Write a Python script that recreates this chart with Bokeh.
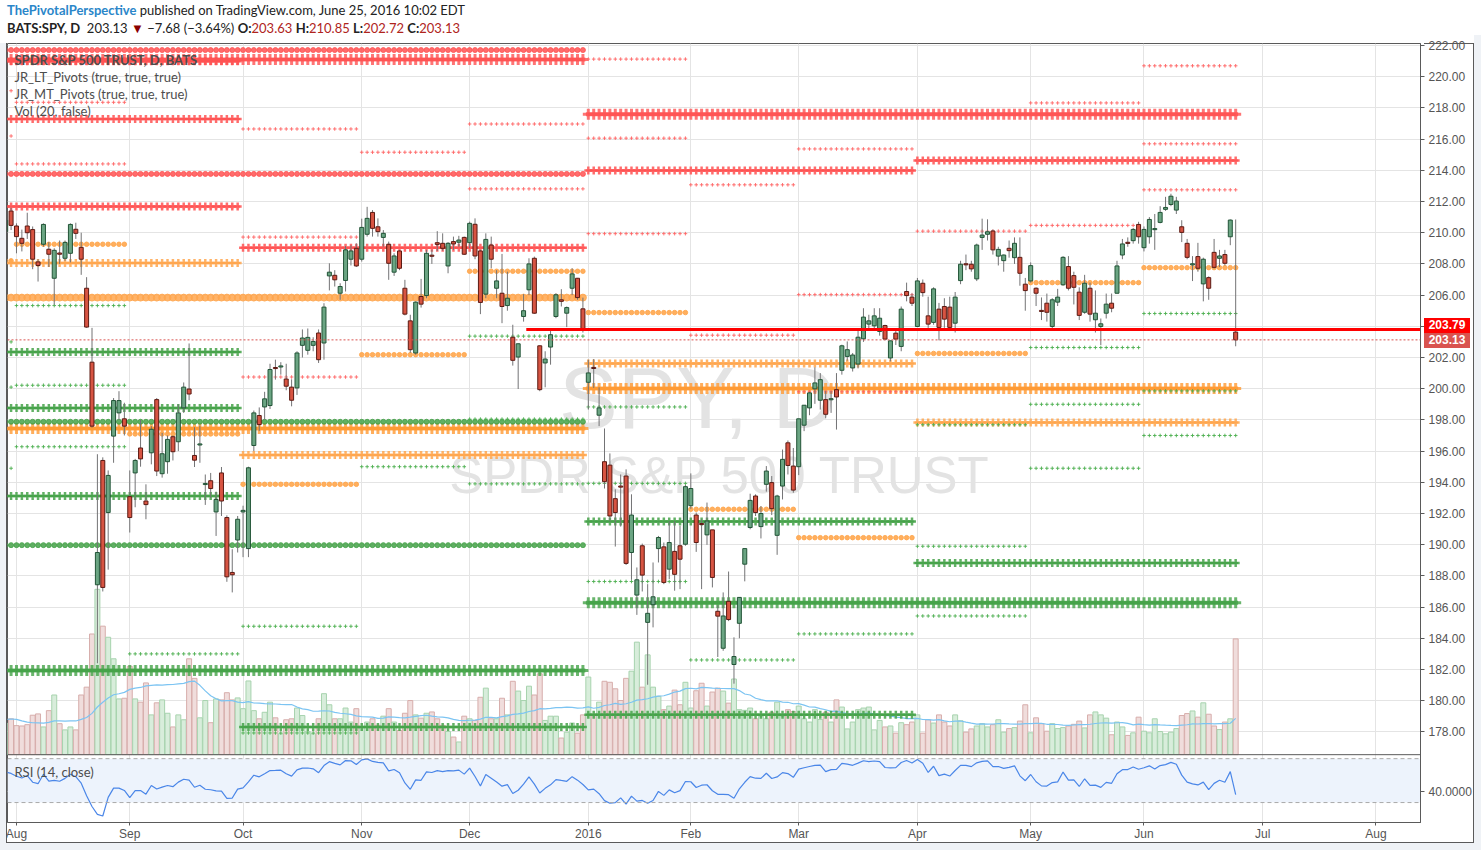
import numpy as np
import pandas as pd
from bokeh.plotting import figure
from bokeh.models import Range1d, FixedTicker, ColumnDataSource, Span, BoxAnnotation, Label, Div
from bokeh.layouts import column
from bokeh.core.properties import value
from bokeh.embed import file_html
from bokeh.resources import INLINE

# ---------------- data (BATS:SPY daily, 2015-07-30 .. 2016-06-24) ----------------
open_ = [
    210.07, 211.39,
    210.43, 209.64, 210.43, 210.20, 208.13, 209.26, 208.94, 207.08, 208.70, 208.36, 208.68, 210.22, 209.06, 206.44, 201.70, 187.43, 195.40, 192.06, 196.96, 198.45, 198.07,
    193.08, 194.60, 196.20, 192.80, 195.89, 199.30, 194.55, 195.32, 196.92, 196.60, 198.77, 199.98, 195.72, 196.40, 193.88, 194.10, 192.10, 194.60, 191.74, 188.22, 190.30,
    192.10, 189.75, 196.36, 198.28, 198.83, 198.92, 201.35, 201.40, 200.62, 200.10, 200.05, 202.78, 202.46, 202.78, 203.57, 202.93, 207.23, 207.27, 206.12, 206.94, 208.30, 209.00,
    208.30, 209.90, 211.30, 210.38, 209.70, 209.26, 207.47, 208.83, 206.44, 204.35, 202.29, 205.91, 205.97, 208.55, 209.36, 209.32, 207.87, 209.43, 209.39, 209.70,
    209.36, 210.54, 208.83, 206.06, 209.21, 206.44, 206.12, 205.33, 203.30, 202.03, 204.63, 206.34, 208.36, 202.75, 201.65, 202.67, 204.63, 205.70, 204.84, 206.44, 207.08, 205.12,
    200.41, 201.36, 198.30, 195.32, 195.10, 192.95, 193.75, 194.40, 189.50, 186.77, 189.93, 185.02, 186.15, 189.75, 189.86, 188.43, 189.57, 189.93, 190.03,
    192.50, 191.90, 191.35, 190.63, 190.95, 185.73, 183.36, 186.37, 182.32, 184.96, 188.75, 191.10, 193.12, 191.16, 193.87, 193.98, 190.60, 193.76, 196.53, 195.04,
    195.00, 197.66, 198.77, 199.99, 199.26, 199.30, 199.30, 199.94, 201.18, 202.07, 201.33, 201.58, 203.20, 204.14, 204.03, 203.67, 204.05, 201.97, 203.56, 202.71, 206.23, 205.87,
    203.99, 206.76, 204.67, 204.25, 205.10, 205.27, 205.23, 204.20, 206.93, 208.00, 207.98, 207.04, 209.70, 209.90, 210.11, 208.50, 208.21, 209.00, 208.40, 208.42, 206.70,
    206.91, 206.44, 205.00, 205.48, 203.99, 205.55, 206.66, 207.83, 207.25, 206.19, 204.90, 206.44, 204.42, 203.99, 204.84, 205.48, 206.12, 208.57, 209.36, 209.49, 210.53,
    209.04, 209.74, 210.21, 210.66, 211.50, 211.81, 211.45, 210.38, 209.32, 207.97, 208.47, 206.72, 207.12, 208.74, 208.36, 208.60, 209.74, 203.63,
]
high = [
    210.90, 211.60,
    210.60, 210.20, 211.28, 210.40, 208.30, 210.60, 209.40, 209.00, 209.50, 209.50, 210.60, 210.64, 210.00, 207.15, 203.90, 195.80, 195.60, 194.76, 199.40, 199.84, 199.10,
    194.76, 195.50, 198.00, 193.87, 197.60, 199.40, 197.17, 197.00, 197.00, 199.00, 200.40, 202.90, 197.53, 197.64, 194.50, 194.60, 193.40, 194.98, 191.88, 189.71, 191.84,
    192.50, 195.00, 198.60, 198.80, 199.80, 201.60, 201.86, 201.70, 201.60, 200.60, 202.40, 203.80, 203.86, 203.30, 203.80, 205.48, 208.04, 207.60, 206.76, 209.15, 209.20, 209.32,
    210.90, 211.66, 211.45, 210.92, 210.17, 209.43, 208.68, 208.90, 206.98, 204.74, 205.60, 207.04, 208.90, 208.90, 210.10, 209.96, 209.40, 209.75, 209.80, 209.75,
    210.71, 210.92, 208.90, 209.96, 209.75, 207.60, 208.64, 207.50, 204.10, 202.90, 206.06, 208.36, 208.47, 202.78, 202.40, 203.78, 206.12, 206.38, 205.27, 207.72, 207.10, 205.84,
    201.86, 201.90, 200.09, 197.45, 195.85, 193.55, 194.50, 194.83, 193.23, 188.54, 190.07, 187.47, 188.86, 190.56, 190.14, 191.50, 191.50, 191.20, 193.83,
    194.57, 192.06, 191.63, 192.70, 190.95, 186.12, 186.94, 188.28, 184.06, 186.63, 189.75, 193.27, 193.23, 192.48, 195.04, 194.40, 193.20, 196.10, 196.68, 196.20,
    198.07, 198.94, 199.80, 201.37, 201.00, 199.84, 199.84, 201.00, 202.82, 203.03, 202.29, 203.74, 205.16, 204.74, 205.16, 205.16, 204.10, 203.07, 203.82, 205.27, 206.80, 206.10,
    207.10, 207.00, 205.90, 206.50, 205.50, 205.80, 205.90, 206.20, 208.20, 208.60, 208.20, 209.30, 210.90, 210.86, 210.20, 209.10, 208.60, 209.50, 209.70, 209.70, 207.10,
    208.10, 206.50, 205.85, 206.10, 205.80, 206.40, 208.50, 208.50, 207.50, 206.50, 207.30, 206.80, 206.30, 204.50, 206.10, 206.10, 208.20, 209.60, 209.70, 210.30, 210.70,
    210.40, 211.00, 211.20, 211.70, 212.30, 212.50, 212.30, 210.80, 209.60, 208.50, 209.35, 208.40, 207.20, 209.60, 208.90, 208.90, 210.85, 210.85,
]
low = [
    209.30, 210.17,
    208.68, 208.80, 209.60, 207.66, 206.87, 209.10, 207.80, 205.38, 208.00, 208.20, 208.10, 209.60, 207.30, 203.90, 197.50, 182.40, 187.00, 188.40, 195.25, 198.00, 197.00,
    190.78, 192.40, 195.00, 191.63, 195.15, 194.40, 194.30, 194.55, 195.40, 196.00, 198.45, 199.26, 194.98, 195.25, 192.55, 193.00, 190.56, 191.84, 187.62, 186.94, 189.50,
    189.20, 189.20, 196.00, 197.30, 198.00, 198.70, 200.58, 200.90, 199.90, 198.87, 199.60, 202.00, 202.18, 202.40, 201.65, 201.86, 206.30, 206.55, 205.70, 206.23, 207.90, 207.80,
    208.15, 209.75, 209.75, 209.75, 209.10, 206.98, 207.23, 207.60, 204.70, 202.30, 202.18, 205.20, 205.80, 208.00, 208.83, 208.85, 207.40, 208.90, 209.10, 208.57,
    209.00, 208.30, 204.78, 205.80, 207.72, 205.80, 204.20, 205.00, 201.48, 199.98, 204.30, 206.00, 204.80, 199.84, 200.09, 201.54, 204.52, 205.27, 203.95, 206.00, 205.70, 203.60,
    198.66, 200.05, 197.60, 193.60, 191.50, 189.88, 191.16, 188.70, 187.75, 185.50, 187.00, 181.02, 184.70, 188.86, 187.47, 187.80, 187.05, 187.15, 189.93,
    192.30, 189.54, 187.15, 189.99, 187.26, 182.80, 183.20, 185.10, 181.09, 184.00, 187.65, 190.99, 191.84, 190.40, 193.40, 191.90, 189.35, 192.90, 194.50, 193.33,
    194.46, 197.28, 198.30, 199.03, 198.66, 198.10, 198.45, 197.38, 200.90, 201.80, 201.10, 201.30, 203.00, 203.78, 203.80, 203.40, 203.10, 201.75, 202.80, 202.40, 205.60, 205.30,
    203.95, 205.90, 203.90, 204.10, 203.10, 203.90, 203.70, 203.60, 206.70, 207.60, 207.50, 206.90, 208.90, 209.50, 208.60, 207.90, 207.50, 208.40, 208.00, 206.60, 205.00,
    206.80, 205.30, 204.40, 204.30, 203.80, 205.30, 206.60, 206.30, 205.40, 204.40, 204.80, 204.30, 203.60, 202.80, 204.50, 204.90, 206.10, 208.30, 209.10, 209.30, 209.30,
    208.80, 209.30, 208.90, 210.60, 211.40, 211.70, 211.20, 209.40, 208.30, 206.90, 207.50, 205.60, 205.70, 207.70, 207.80, 207.90, 209.20, 202.72,
]
close = [
    210.81, 210.47,
    209.75, 209.32, 210.00, 208.30, 207.90, 210.53, 208.62, 208.87, 208.62, 209.38, 210.53, 209.96, 208.30, 203.95, 197.60, 189.50, 187.26, 194.44, 199.24, 199.24, 197.60,
    191.74, 195.40, 195.50, 192.57, 197.40, 194.72, 195.83, 196.75, 195.96, 198.45, 200.10, 199.66, 195.42, 196.45, 193.90, 193.60, 192.90, 192.80, 187.94, 188.07, 191.63,
    192.20, 194.93, 198.45, 197.70, 199.35, 201.23, 201.30, 201.45, 200.16, 199.26, 202.29, 203.25, 203.29, 203.03, 201.86, 205.23, 207.47, 206.98, 206.55, 208.90, 208.83, 207.87,
    210.34, 210.92, 210.28, 210.07, 209.96, 208.04, 208.51, 207.72, 204.78, 202.50, 205.55, 205.42, 208.68, 208.50, 209.25, 209.00, 209.32, 209.28, 209.53, 208.62,
    210.60, 208.51, 205.53, 209.57, 208.30, 206.91, 205.27, 205.80, 201.82, 202.88, 205.00, 208.00, 204.84, 199.94, 201.90, 203.46, 206.02, 205.60, 205.20, 207.36, 205.84, 203.82,
    201.01, 201.30, 198.77, 194.04, 191.84, 192.06, 193.70, 188.80, 191.90, 187.75, 188.05, 185.60, 186.66, 190.46, 187.58, 190.14, 188.10, 189.07, 193.72,
    193.60, 190.14, 191.30, 191.52, 187.90, 185.42, 185.43, 185.20, 182.83, 186.62, 189.75, 192.84, 192.06, 192.00, 194.72, 192.31, 193.12, 195.47, 195.08, 193.50,
    198.07, 198.94, 199.73, 200.37, 200.58, 198.36, 199.35, 199.47, 202.75, 202.50, 202.16, 203.30, 204.59, 204.35, 204.67, 204.52, 203.18, 203.07, 203.18, 205.10, 205.97, 205.48,
    206.91, 206.16, 204.14, 206.40, 203.93, 204.46, 203.93, 205.87, 207.98, 207.95, 207.68, 209.21, 209.85, 210.06, 208.90, 208.93, 208.57, 208.85, 209.32, 207.40, 206.29,
    207.89, 206.12, 204.97, 204.90, 205.70, 205.87, 208.42, 206.44, 206.50, 204.70, 206.76, 204.78, 204.84, 204.16, 205.42, 205.16, 207.87, 209.28, 209.34, 210.21, 209.74,
    210.21, 210.85, 210.25, 211.30, 211.62, 212.34, 212.03, 210.02, 208.42, 207.98, 207.72, 208.30, 206.44, 207.78, 208.51, 208.04, 210.81, 203.13,
]
volume = [  # millions of shares
    97, 110, 89, 88, 92, 121, 125, 85, 135, 183, 95, 76, 85, 76, 183, 207, 370, 507, 394, 360,
    294, 171, 173, 271, 171, 161, 220, 122, 159, 168, 127, 85, 122, 107, 294, 234, 113, 166, 98, 171,
    168, 190, 168, 174, 141, 226, 135, 110, 130, 161, 113, 64, 107, 110, 143, 120, 71, 64, 110, 187,
    153, 110, 110, 143, 100, 141, 85, 100, 110, 90, 118, 141, 100, 74, 127, 166, 122, 112, 127, 131,
    110, 90, 71, 54, 39, 118,
    110, 105, 176, 204, 110, 110, 173, 122, 225, 195, 166, 210, 183, 248, 105, 118, 118, 51, 69, 97,
    66, 122, 238, 122, 161, 225, 222, 202, 166, 234, 256, 345, 207, 306, 207, 179, 138, 149, 198, 153,
    222, 143, 196, 219, 149, 192, 204, 195, 158, 232, 138, 136, 143, 110, 118, 110, 130, 161, 118, 138,
    132, 149, 110, 100, 138, 108, 130, 100, 168, 146, 79, 100, 138, 143, 146, 76, 105, 85, 88, 66,
    98, 92, 100, 122, 66, 107, 97, 122, 100, 88, 122, 104, 69, 79, 88, 95, 85, 92, 107, 69,
    80, 83, 103, 153, 67, 113, 95, 72, 95, 80, 83, 88, 93, 103, 82, 122, 131, 122, 112, 61,
    100, 85, 59, 67, 115, 72, 67, 110, 71, 64, 69, 80, 120, 126, 134, 115, 159, 124, 88, 77,
    100, 110, 355,
]
# July 2015 history used only to seed RSI(14) and Vol MA(20)
prev_close = [207.5, 207.3, 206.4, 207.7, 204.3, 204.9, 207.1, 209.8, 210.7, 210.6,
              212.3, 212.5, 212.6, 211.7, 211.4, 210.2, 208.0, 206.8, 209.3, 210.8]
prev_volume = [100, 75, 110, 180, 175, 155, 130, 105, 90, 85, 95, 90, 75, 80, 85, 90, 120, 115, 105, 95]

holidays = ["2015-09-07", "2015-11-26", "2015-12-25", "2016-01-01", "2016-01-18",
            "2016-02-15", "2016-03-25", "2016-05-30"]

# Pivot levels (period, price)
MT_R = [("2015-07", 219.1), ("2015-07", 216.2), ("2015-08", 218.36), ("2015-08", 214.41), ("2015-09", 211.6),
        ("2015-10", 216.65), ("2015-10", 209.72), ("2015-10", 200.75), ("2015-11", 215.16),
        ("2015-12", 216.97), ("2015-12", 212.81), ("2016-01", 221.13), ("2016-01", 216.06), ("2016-01", 209.94),
        ("2016-02", 213.07), ("2016-02", 203.43), ("2016-03", 215.37), ("2016-03", 206.03), ("2016-03", 199.8),
        ("2016-04", 214.69), ("2016-04", 210.1), ("2016-05", 218.32), ("2016-05", 214.61), ("2016-05", 210.47),
        ("2016-06", 220.7), ("2016-06", 215.7), ("2016-06", 212.75)]
MT_P = [("2015-07", 208.2), ("2015-08", 209.26), ("2015-09", 197.1), ("2015-10", 193.87), ("2015-11", 202.18),
        ("2015-12", 207.53), ("2016-01", 204.88), ("2016-02", 192.27), ("2016-03", 190.45),
        ("2016-04", 202.26), ("2016-05", 206.8), ("2016-06", 207.76)]
MT_S = [("2015-07", 203.0), ("2015-07", 200.1), ("2015-07", 194.9), ("2015-08", 205.33), ("2015-08", 200.22),
        ("2015-08", 196.28), ("2015-09", 183.0), ("2015-10", 184.77), ("2015-10", 177.93), ("2015-11", 195.0),
        ("2015-11", 181.84), ("2015-12", 203.37), ("2015-12", 198.05), ("2015-12", 193.9), ("2016-01", 198.83),
        ("2016-01", 193.93), ("2016-01", 187.64), ("2016-02", 182.61), ("2016-03", 184.28), ("2016-04", 197.69),
        ("2016-04", 189.9), ("2016-04", 185.43), ("2016-05", 202.64), ("2016-05", 199.0), ("2016-05", 194.9),
        ("2016-06", 204.82), ("2016-06", 199.86), ("2016-06", 197.0)]
LT_R = [("2015Q3", 221.0), ("2015Q3", 217.29), ("2015Q3", 211.68), ("2015Q4", 209.04),
        ("2016Q1", 213.99), ("2016Q2", 214.63)]
LT_P = [("2015Q3", 208.06), ("2015Q4", 195.75), ("2016Q1", 201.62), ("2016Q2", 197.83)]
LT_S = [("2015Q3", 202.35), ("2015Q3", 198.77), ("2015Q3", 193.12), ("2015Q4", 178.31),
        ("2016Q1", 191.48), ("2016Q1", 179.1), ("2016Q2", 188.82)]
HY_R = [("2015H2", 221.71), ("2015H2", 213.77)]
HY_P = [("2015H2", 205.84)]
HY_S = [("2015H2", 197.88), ("2015H2", 189.97)]
YR_R = [("2015", 221.1), ("2016", 217.6)]
YR_P = [("2015", 197.45), ("2016", 200.02)]
YR_S = [("2015", 181.93), ("2016", 186.28)]

level_line = 203.79       # horizontal trend level drawn on the chart
level_line_from = "2015-12-16"

# ---------------- derived ----------------
n = len(close)
if not (len(open_) == len(high) == len(low) == n == len(volume)):
    raise ValueError("lengths %d %d %d %d %d" % (len(open_), len(high), len(low), n, len(volume)))
dates = pd.bdate_range("2015-07-30", "2016-06-24")
dates = dates[~dates.isin(pd.to_datetime(holidays))]
if len(dates) != n:
    raise ValueError("dates %d vs %d" % (len(dates), n))
future = pd.bdate_range("2016-06-27", "2016-08-31")
all_dates = dates.append(future)
xs = np.arange(n)

per_m = np.array(dates.strftime("%Y-%m"))
per_q = np.array([f"{d.year}Q{(d.month - 1) // 3 + 1}" for d in dates])
per_h = np.array([f"{d.year}H{1 if d.month <= 6 else 2}" for d in dates])
per_y = np.array([str(d.year) for d in dates])

o = np.array(open_); h = np.array(high); l = np.array(low); c = np.array(close)
up = c >= o
btop = np.maximum(o, c); bbot = np.minimum(o, c)
small = (btop - bbot) < 0.07
mid = (btop + bbot) / 2
btop = np.where(small, mid + 0.035, btop)
bbot = np.where(small, mid - 0.035, bbot)

# RSI(14) Wilder
allc = np.array(prev_close + close)
d = np.diff(allc)
g = np.clip(d, 0, None); ls = np.clip(-d, 0, None)
N = 14
ag = g[:N].mean(); al = ls[:N].mean()
rsi_all = [np.nan] * (N + 1)
rsi_all[N] = 100 - 100 / (1 + ag / al)
for i in range(N, len(d)):
    ag = (ag * (N - 1) + g[i]) / N
    al = (al * (N - 1) + ls[i]) / N
    rsi_all.append(100 - 100 / (1 + ag / al) if al > 0 else 100)
rsi = np.array(rsi_all[-n:])
allv = pd.Series(prev_volume + volume, dtype=float)
vol_ma = allv.rolling(20).mean().values[-n:]

# month ticks
mon = all_dates.to_period("M")
tick_pos, tick_lab = [], {}
for i in range(1, len(all_dates)):
    if mon[i] != mon[i - 1]:
        tick_pos.append(i)
        dt = all_dates[i]
        tick_lab[i] = str(dt.year) if dt.month == 1 else dt.strftime("%b")

# ---------------- geometry ----------------
PXX = 5.41                    # px per bar
FRAME_L, FRAME_T = 7, 43      # frame position on the page
FRAME_W, FRAME_H = 1417, 781
x_start = 2 - (16 - FRAME_L) / PXX
x_end = x_start + FRAME_W / PXX
y_lo, y_hi = 172.19, 222.13
pxy = FRAME_H / (y_hi - y_lo)
vol_px = 0.327
vol_lo = -68 / vol_px
vol_hi = vol_lo + FRAME_H / vol_px
rsi_px = 1.1
rsi_lo = 40 - 31 / rsi_px
rsi_hi = rsi_lo + FRAME_H / rsi_px
rsi40_price = y_lo + (40 - rsi_lo) * rsi_px / pxy


def sx(px):
    return x_start + (px - FRAME_L) / PXX


def sy(py):
    return y_hi - (py - FRAME_T) / pxy


def page_y(price):
    return FRAME_T + (y_hi - price) * pxy


p = figure(width=1474, height=808, x_range=Range1d(x_start, x_end), y_range=Range1d(y_lo, y_hi),
           y_axis_location="right", output_backend="svg", toolbar_location=None,
           min_border_left=FRAME_L, min_border_top=8, min_border_right=50, min_border_bottom=19,
           background_fill_color="white", border_fill_color="white", outline_line_color="#5a5a5a")
p.title.visible = False
p.extra_y_ranges = {"vol": Range1d(vol_lo, vol_hi), "rsi": Range1d(rsi_lo, rsi_hi)}

# axes / grid
price_ticks = list(range(178, 223, 2)) + [rsi40_price]
ya = p.yaxis[0]
ya.ticker = FixedTicker(ticks=price_ticks)
ya.major_label_overrides = {t: ("40.0000" if t == rsi40_price else "%.2f" % t) for t in price_ticks}
ya.major_label_text_font = "Liberation Sans"
ya.major_label_text_font_size = "12px"
ya.major_label_text_color = "#555555"
ya.axis_line_color = "#5a5a5a"
ya.major_tick_line_color = "#5a5a5a"
ya.major_tick_out = 4
ya.major_tick_in = 0
ya.minor_tick_line_color = None
ya.major_label_standoff = 4
xa = p.xaxis[0]
xa.ticker = FixedTicker(ticks=tick_pos)
xa.major_label_overrides = tick_lab
xa.major_label_text_font = "Liberation Sans"
xa.major_label_text_font_size = "12px"
xa.major_label_text_color = "#555555"
xa.axis_line_color = "#5a5a5a"
xa.major_tick_line_color = "#5a5a5a"
xa.minor_tick_line_color = None
xa.major_tick_out = 3
xa.major_tick_in = 0
xa.major_label_standoff = 1
p.xgrid.ticker = FixedTicker(ticks=tick_pos)
p.xgrid.grid_line_color = "#e4e4e4"
p.ygrid.grid_line_color = "#e4e4e4"

# RSI band
p.add_layout(BoxAnnotation(bottom=30, top=70, y_range_name="rsi", fill_color="#edf3fc",
                           fill_alpha=1, line_color=None, level="underlay"))
for lv in (30, 70):
    p.add_layout(Span(location=lv, dimension="width", y_range_name="rsi", line_color="#a9a9a9",
                      line_dash="4 3", line_width=1))

# watermark
p.text(x=[sx(560)], y=[sy(398)], text=["SPY, D"], text_font=value("Liberation Sans"),
       text_font_size="88px", text_color="#e3e3e3", text_baseline="alphabetic", text_align="left")
p.text(x=[sx(450)], y=[sy(476)], text=["SPDR S&P 500 TRUST"], text_font=value("Liberation Sans"),
       text_font_size="51px", text_color="#e3e3e3", text_baseline="alphabetic", text_align="left")

# volume
vsrc = ColumnDataSource(dict(x=xs, v=volume,
                             fc=np.where(up, "#d8eddb", "#f0dddc"),
                             lc=np.where(up, "#a7d3ae", "#d7adab")))
p.vbar(x="x", top="v", bottom=0, width=0.92, fill_color="fc", line_color="lc",
       y_range_name="vol", source=vsrc)
p.line(xs, vol_ma, line_color="#7cc4f2", line_width=1.2, y_range_name="vol")


# pivots
def mask_for(key):
    return (per_m == key) | (per_q == key) | (per_h == key) | (per_y == key)


def level_points(levels):
    px_, py_ = [], []
    for key, val in levels:
        idx = np.nonzero(mask_for(key))[0]
        px_ += idx.tolist()
        py_ += [val] * len(idx)
    return px_, py_


def level_segs(levels):
    x0s, x1s, ys = [], [], []
    for key, val in levels:
        idx = np.nonzero(mask_for(key))[0]
        x0s.append(idx.min() - 0.45); x1s.append(idx.max() + 0.45); ys.append(val)
    return x0s, x1s, ys


RED, GRN = "#ff5252", "#45a249"
# yearly (very thick)
for lv, col in ((YR_R, RED), (YR_P, "#ff9a33"), (YR_S, GRN)):
    a, b, yy = level_segs(lv)
    p.segment(x0=a, x1=b, y0=yy, y1=yy, line_color=col, line_width=4, line_alpha=0.8)
    px_, py_ = level_points(lv)
    p.scatter(px_, py_, marker="cross", size=11, line_width=3, line_color=col, line_alpha=0.8)
# quarterly (thick)
for lv, col in ((LT_R, RED), (LT_P, "#ffa64d"), (LT_S, GRN)):
    a, b, yy = level_segs(lv)
    p.segment(x0=a, x1=b, y0=yy, y1=yy, line_color=col, line_width=2, line_alpha=0.85)
    px_, py_ = level_points(lv)
    p.scatter(px_, py_, marker="cross", size=8, line_width=2.5, line_color=col, line_alpha=0.85)
# half-year (medium dots)
for lv, col, sz in ((HY_R, RED, 5), (HY_P, "#ffa64d", 7), (HY_S, GRN, 5)):
    px_, py_ = level_points(lv)
    p.scatter(px_, py_, marker="circle", size=sz, fill_color=col, line_color=col, alpha=0.85)
# monthly (small)
for lv, col in ((MT_R, "#ff6464"), (MT_S, "#4caf50")):
    px_, py_ = level_points(lv)
    p.scatter(px_, py_, marker="cross", size=3.6, line_width=1, line_color=col, line_alpha=0.9)
px_, py_ = level_points(MT_P)
p.scatter(px_, py_, marker="circle", size=4.5, fill_color="#ffa64d", line_color="#ffa64d", alpha=0.9)

# candles
csrc = ColumnDataSource(dict(x=xs, h=h, l=l, t=btop, b=bbot,
                             fc=np.where(up, "#6ba583", "#d75442"),
                             lc=np.where(up, "#225437", "#5b1a13")))
p.segment(x0="x", x1="x", y0="l", y1="h", line_color="#737375", line_width=1, source=csrc)
p.vbar(x="x", top="t", bottom="b", width=0.74, fill_color="fc", line_color="lc", line_width=1, source=csrc)

# RSI
p.line(xs, rsi, line_color="#4a86e8", line_width=1.2, y_range_name="rsi")

# trend level & last price
start_i = int(np.nonzero(dates == pd.Timestamp(level_line_from))[0][0])
p.segment(x0=[start_i - 0.5], x1=[x_end + 5], y0=[level_line], y1=[level_line],
          line_color="#ff0000", line_width=3)
p.add_layout(Span(location=close[-1], dimension="width", line_color="#d9534f",
                  line_dash="2 2", line_width=1))
# panel separator
p.add_layout(Span(location=0, dimension="width", y_range_name="vol", line_color="#5a5a5a", line_width=1))

# legend-style texts
for txt, py, bold in (("SPDR S&P 500 TRUST, D, BATS", 60, True),
                      ("JR_LT_Pivots (true, true, true)", 77, False),
                      ("JR_MT_Pivots (true, true, true)", 94, False),
                      ("Vol (20, false)", 111, False)):
    p.add_layout(Label(x=sx(14), y=sy(py), text=txt, text_font="Lato", text_font_size="13px",
                       text_color="#4d4d4d", text_baseline="middle",
                       text_font_style="bold" if bold else "normal"))
p.add_layout(Label(x=sx(14), y=40 + (793 - 773) / rsi_px, y_range_name="rsi", text="RSI (14, close)",
                   text_font="Lato", text_font_size="13px", text_color="#4d4d4d", text_baseline="middle"))

# header + price tags on the scale + outer chart chrome (HTML overlay)
chg = close[-1] - close[-2]
pct = chg / close[-2] * 100
red = "#b0241c"
tag_h = 15
t2_top = page_y(close[-1]) - tag_h / 2
t1_top = min(page_y(level_line) - tag_h / 2, t2_top - tag_h)
RIGHT = 1474
BOTTOM = 843


def box(left, top, width, height, color):
    return (f'<div style="position:absolute;left:{left}px;top:{top}px;width:{width}px;'
            f'height:{height}px;background:{color}"></div>')


chrome = (box(0, FRAME_T, FRAME_L - 1, 850 - FRAME_T, "#eff2f6")
          + box(0, BOTTOM, 1481, 7, "#eff2f6")
          + box(RIGHT, FRAME_T - 8, 7, 850 - FRAME_T + 8, "#eff2f6")
          + box(FRAME_L - 1, BOTTOM - 1, RIGHT - FRAME_L + 1, 1, "#5a5a5a")
          + box(RIGHT - 1, FRAME_T, 1, BOTTOM - FRAME_T, "#5a5a5a")
          + box(FRAME_L + FRAME_W, FRAME_T, RIGHT - FRAME_L - FRAME_W, 1, "#5a5a5a")
          + box(FRAME_L - 1, FRAME_T, 1, BOTTOM - FRAME_T, "#5a5a5a"))
tags = ""
for val, bg, top in ((level_line, "#ff0000", t1_top), (close[-1], "#d9534f", t2_top)):
    tags += (f'<div style="position:absolute;left:{FRAME_L + FRAME_W}px;top:{top:.1f}px;width:46px;'
             f'height:{tag_h}px;background:{bg};color:#fff;font-family:\'Liberation Sans\',Arial;'
             f'font-size:12px;font-weight:bold;line-height:{tag_h}px;text-align:center">{val:.2f}</div>')
header = (
    '<div style="position:relative;top:1px;left:7px;font-family:Lato,sans-serif;font-size:13px;'
    'line-height:18px;color:#222;white-space:nowrap">'
    '<span style="color:#2a86c9;font-weight:bold">ThePivotalPerspective</span> '
    'published on TradingView.com, June 25, 2016 10:02 EDT<br>'
    f'<b>BATS:SPY, D</b>&nbsp; {close[-1]:.2f} <span style="color:#8b0000">&#9660;</span> '
    f'&minus;{abs(chg):.2f} (&minus;{abs(pct):.2f}%) '
    f'<b>O:</b><span style="color:{red}">{open_[-1]:.2f}</span> '
    f'<b>H:</b><span style="color:{red}">{high[-1]:.2f}</span> '
    f'<b>L:</b><span style="color:{red}">{low[-1]:.2f}</span> '
    f'<b>C:</b><span style="color:{red}">{close[-1]:.2f}</span></div>' + chrome + tags
)
div = Div(text=header, width=1474, height=35, margin=(0, 0, 0, 0),
          styles={"position": "relative", "overflow": "visible", "z-index": "10"})
p.margin = (0, 0, 0, 0)
layout = column(div, p, spacing=0)

open("out.html", "w").write(file_html(layout, INLINE))
